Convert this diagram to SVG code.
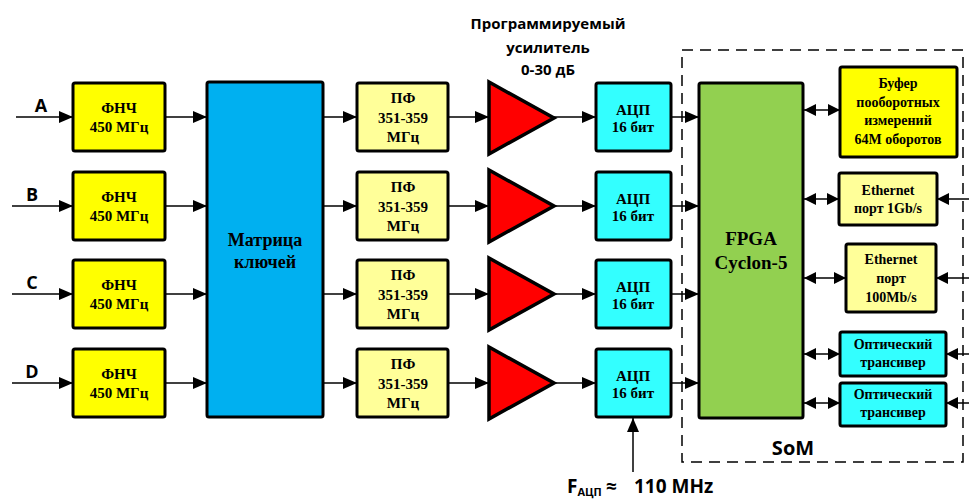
<svg xmlns="http://www.w3.org/2000/svg" width="969" height="500" viewBox="0 0 969 500">
<defs>
<marker id="ah" markerUnits="userSpaceOnUse" markerWidth="14" markerHeight="12" refX="14" refY="6" orient="auto-start-reverse">
<path d="M0,0 L14,6 L0,12 z" fill="#000"/>
</marker>
<marker id="ah2" markerUnits="userSpaceOnUse" markerWidth="12" markerHeight="12" refX="12" refY="6" orient="auto-start-reverse">
<path d="M0,0 L12,6 L0,12 z" fill="#000"/>
</marker>
</defs>
<style>
.box{stroke:#000;stroke-width:3;}
.fnch{fill:#FFFF00;}
.pf{fill:#FFFF99;}
.adc{fill:#33FFFF;}
.amp{fill:#FF0000;stroke:#000;stroke-width:3.5;stroke-linejoin:miter;}
.t{font-family:"Liberation Serif","DejaVu Serif","Times New Roman",serif;font-weight:bold;font-size:15px;text-anchor:middle;fill:#000;}
.t14{font-size:14px;}
.t18{font-size:18px;}
.t19{font-size:19px;}
.s{font-family:"Open Sans","Liberation Sans",sans-serif;font-weight:bold;fill:#000;}
.ln{stroke:#000;stroke-width:1.5;fill:none;}
.a1{marker-end:url(#ah);}
.a2{marker-start:url(#ah2);marker-end:url(#ah2);}
.a3{marker-end:url(#ah2);}
</style>

<g id="connectors">
<line class="ln a1" x1="16" y1="117" x2="73" y2="117"/>
<line class="ln a1" x1="12" y1="206" x2="73" y2="206"/>
<line class="ln a1" x1="12" y1="294" x2="73" y2="294"/>
<line class="ln a1" x1="12" y1="383" x2="73" y2="383"/>
<line class="ln a1" x1="165" y1="117" x2="207" y2="117"/>
<line class="ln a1" x1="165" y1="206" x2="207" y2="206"/>
<line class="ln a1" x1="165" y1="294" x2="207" y2="294"/>
<line class="ln a1" x1="165" y1="383" x2="207" y2="383"/>
<line class="ln a1" x1="323" y1="117" x2="357" y2="117"/>
<line class="ln a1" x1="323" y1="206" x2="357" y2="206"/>
<line class="ln a1" x1="323" y1="294" x2="357" y2="294"/>
<line class="ln a1" x1="323" y1="383" x2="357" y2="383"/>
<line class="ln a1" x1="448" y1="117" x2="489" y2="117"/>
<line class="ln a1" x1="448" y1="206" x2="489" y2="206"/>
<line class="ln a1" x1="448" y1="294" x2="489" y2="294"/>
<line class="ln a1" x1="448" y1="383" x2="489" y2="383"/>
<line class="ln a1" x1="554" y1="117" x2="596" y2="117"/>
<line class="ln a1" x1="554" y1="206" x2="596" y2="206"/>
<line class="ln a1" x1="554" y1="294" x2="596" y2="294"/>
<line class="ln a1" x1="554" y1="383" x2="596" y2="383"/>
<line class="ln a1" x1="671" y1="117" x2="699" y2="117"/>
<line class="ln a1" x1="671" y1="206" x2="699" y2="206"/>
<line class="ln a1" x1="671" y1="294" x2="699" y2="294"/>
<line class="ln a1" x1="671" y1="383" x2="699" y2="383"/>
<line class="ln a1" x1="633" y1="472" x2="633" y2="418"/>
<line class="ln a2" x1="804" y1="110" x2="840" y2="110"/>
<line class="ln a2" x1="804" y1="199" x2="839" y2="199"/>
<line class="ln a2" x1="804" y1="278" x2="846" y2="278"/>
<line class="ln a2" x1="804" y1="354" x2="840" y2="354"/>
<line class="ln a2" x1="804" y1="403" x2="840" y2="403"/>
<line class="ln a3" x1="969" y1="199" x2="937" y2="199"/>
<line class="ln a3" x1="969" y1="278" x2="936" y2="278"/>
<line class="ln a3" x1="969" y1="354" x2="946" y2="354"/>
<line class="ln a3" x1="969" y1="403" x2="946" y2="403"/>
</g>

<g id="som">
<rect x="682" y="50" width="281" height="412" fill="none" stroke="#000" stroke-width="1.5" stroke-dasharray="11,7"/>
<text class="s" x="793" y="455" style="font-size:20px" text-anchor="middle">SoM</text>
</g>

<g id="labels">
<text class="s" x="41" y="112" style="font-size:18px" text-anchor="middle">A</text>
<text class="s" x="32" y="201" style="font-size:18px" text-anchor="middle">B</text>
<text class="s" x="32" y="289" style="font-size:18px" text-anchor="middle">C</text>
<text class="s" x="32" y="378" style="font-size:18px" text-anchor="middle">D</text>
<text class="s" style="font-size:15px" text-anchor="middle"><tspan x="548" y="29">Программируемый</tspan><tspan x="548" y="53">усилитель</tspan><tspan x="548" y="75">0-30 дБ</tspan></text>
<text class="s" y="493" style="font-size:19px"><tspan x="567">F</tspan><tspan style="font-size:11px" dy="3">АЦП</tspan><tspan dy="-3" x="606">≈</tspan><tspan x="634">110 MHz</tspan></text>
</g>

<g id="fnch-a"><rect class="box fnch" x="73" y="83" width="92" height="68" rx="2"/><text class="t" x="119" y="113">ФНЧ</text><text class="t" x="119" y="132">450 МГц</text></g>
<g id="fnch-b"><rect class="box fnch" x="73" y="172" width="92" height="68" rx="2"/><text class="t" x="119" y="202">ФНЧ</text><text class="t" x="119" y="221">450 МГц</text></g>
<g id="fnch-c"><rect class="box fnch" x="73" y="260" width="92" height="68" rx="2"/><text class="t" x="119" y="290">ФНЧ</text><text class="t" x="119" y="309">450 МГц</text></g>
<g id="fnch-d"><rect class="box fnch" x="73" y="349" width="92" height="68" rx="2"/><text class="t" x="119" y="379">ФНЧ</text><text class="t" x="119" y="398">450 МГц</text></g>

<g id="matrix"><rect class="box" x="207" y="82" width="116" height="335" rx="2" fill="#00B0F0"/><text class="t t18" x="265" y="246">Матрица</text><text class="t t18" x="265" y="268">ключей</text></g>

<g id="pf-1"><rect class="box pf" x="357" y="83" width="91" height="68" rx="2"/><text class="t" x="403" y="103">ПФ</text><text class="t" x="403" y="123">351-359</text><text class="t" x="403" y="142">МГц</text></g>
<g id="pf-2"><rect class="box pf" x="357" y="172" width="91" height="68" rx="2"/><text class="t" x="403" y="192">ПФ</text><text class="t" x="403" y="212">351-359</text><text class="t" x="403" y="231">МГц</text></g>
<g id="pf-3"><rect class="box pf" x="357" y="260" width="91" height="68" rx="2"/><text class="t" x="403" y="280">ПФ</text><text class="t" x="403" y="300">351-359</text><text class="t" x="403" y="319">МГц</text></g>
<g id="pf-4"><rect class="box pf" x="357" y="349" width="91" height="68" rx="2"/><text class="t" x="403" y="369">ПФ</text><text class="t" x="403" y="389">351-359</text><text class="t" x="403" y="408">МГц</text></g>

<g id="amp-1"><polygon class="amp" points="489,82 554,118 489,154"/></g>
<g id="amp-2"><polygon class="amp" points="489,170 554,206 489,242"/></g>
<g id="amp-3"><polygon class="amp" points="489,258 554,294 489,330"/></g>
<g id="amp-4"><polygon class="amp" points="489,347 554,383 489,419"/></g>

<g id="adc-1"><rect class="box adc" x="596" y="83" width="75" height="68" rx="2"/><text class="t" x="633" y="115">АЦП</text><text class="t" x="633" y="132">16 бит</text></g>
<g id="adc-2"><rect class="box adc" x="596" y="172" width="75" height="68" rx="2"/><text class="t" x="633" y="204">АЦП</text><text class="t" x="633" y="221">16 бит</text></g>
<g id="adc-3"><rect class="box adc" x="596" y="260" width="75" height="68" rx="2"/><text class="t" x="633" y="292">АЦП</text><text class="t" x="633" y="309">16 бит</text></g>
<g id="adc-4"><rect class="box adc" x="596" y="349" width="75" height="68" rx="2"/><text class="t" x="633" y="381">АЦП</text><text class="t" x="633" y="398">16 бит</text></g>

<g id="fpga"><rect class="box" x="699" y="83" width="104" height="335" rx="2" fill="#92D050"/><text class="t t19" x="751" y="245">FPGA</text><text class="t t19" x="751" y="269">Cyclon-5</text></g>

<g id="buffer"><rect class="box" x="840" y="67" width="117" height="90" rx="2" fill="#FFFF00"/><text class="t t14" x="898" y="88">Буфер</text><text class="t t14" x="898" y="107">пооборотных</text><text class="t t14" x="898" y="125">измерений</text><text class="t t14" x="898" y="144">64M оборотов</text></g>

<g id="eth-1g"><rect class="box pf" x="839" y="173" width="98" height="52" rx="2"/><text class="t t14" x="888" y="195">Ethernet</text><text class="t t14" x="888" y="213">порт 1Gb/s</text></g>

<g id="eth-100m"><rect class="box pf" x="846" y="244" width="90" height="68" rx="2"/><text class="t t14" x="891" y="264">Ethernet</text><text class="t t14" x="891" y="283">порт</text><text class="t t14" x="891" y="302">100Mb/s</text></g>

<g id="optic-1"><rect class="box adc" x="840" y="332" width="106" height="44" rx="2"/><text class="t t14" x="893" y="349">Оптический</text><text class="t t14" x="893" y="367">трансивер</text></g>

<g id="optic-2"><rect class="box adc" x="840" y="383" width="106" height="43" rx="2"/><text class="t t14" x="893" y="399">Оптический</text><text class="t t14" x="893" y="417">трансивер</text></g>
</svg>
